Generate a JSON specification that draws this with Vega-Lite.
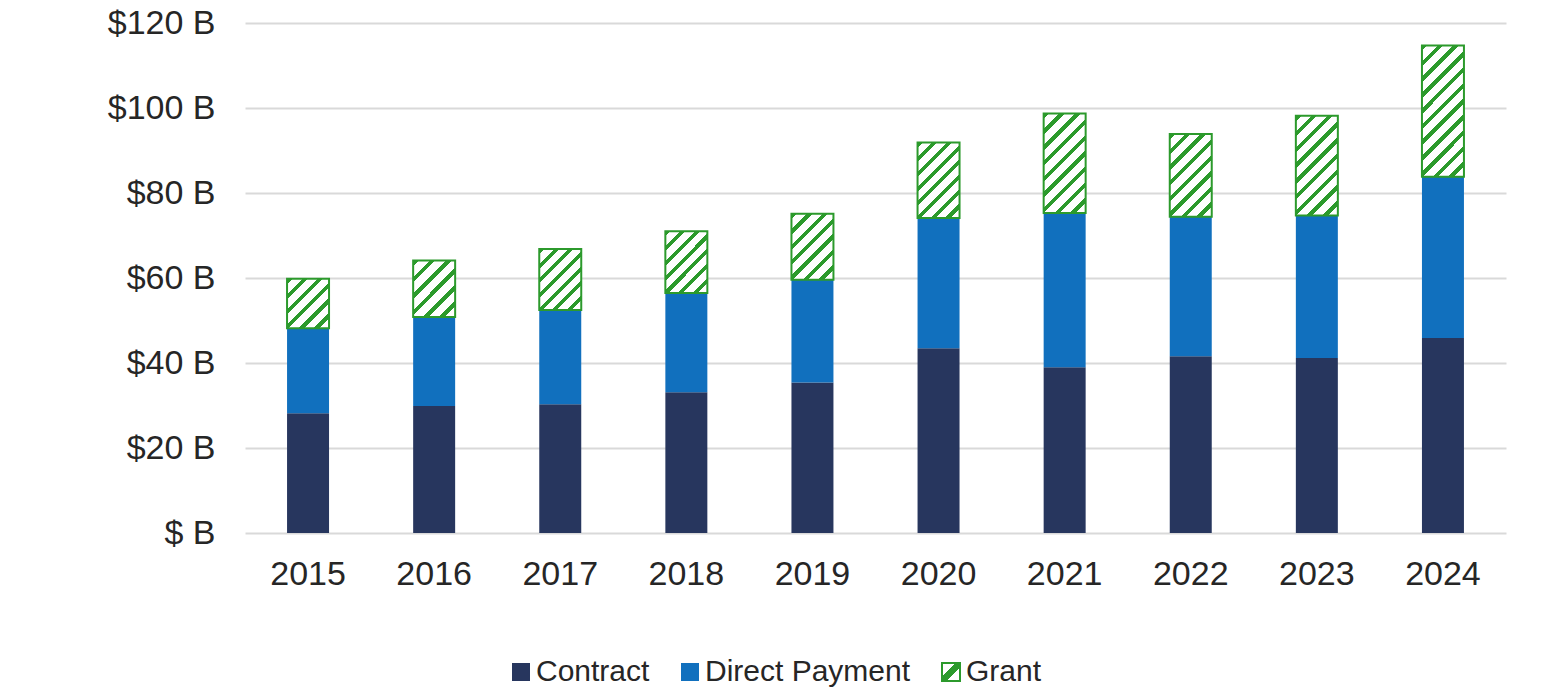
{
  "$schema": "https://vega.github.io/schema/vega-lite/v6.json",
  "autosize": "none",
  "width": 1261,
  "height": 510,
  "padding": {"left": 245, "top": 23, "right": 60, "bottom": 166},
  "background": "white",
  "config": {
    "view": {"stroke": null},
    "font": "Liberation Sans"
  },
  "data": {
    "values": [
      {"year": "2015", "type": "Contract", "value": 28.2},
      {"year": "2015", "type": "Direct Payment", "value": 20.0},
      {"year": "2015", "type": "Grant", "value": 11.6},
      {"year": "2016", "type": "Contract", "value": 29.9},
      {"year": "2016", "type": "Direct Payment", "value": 20.9},
      {"year": "2016", "type": "Grant", "value": 13.3},
      {"year": "2017", "type": "Contract", "value": 30.3},
      {"year": "2017", "type": "Direct Payment", "value": 22.2},
      {"year": "2017", "type": "Grant", "value": 14.3},
      {"year": "2018", "type": "Contract", "value": 33.1},
      {"year": "2018", "type": "Direct Payment", "value": 23.4},
      {"year": "2018", "type": "Grant", "value": 14.5},
      {"year": "2019", "type": "Contract", "value": 35.4},
      {"year": "2019", "type": "Direct Payment", "value": 24.2},
      {"year": "2019", "type": "Grant", "value": 15.5},
      {"year": "2020", "type": "Contract", "value": 43.5},
      {"year": "2020", "type": "Direct Payment", "value": 30.6},
      {"year": "2020", "type": "Grant", "value": 17.8},
      {"year": "2021", "type": "Contract", "value": 39.0},
      {"year": "2021", "type": "Direct Payment", "value": 36.3},
      {"year": "2021", "type": "Grant", "value": 23.4},
      {"year": "2022", "type": "Contract", "value": 41.6},
      {"year": "2022", "type": "Direct Payment", "value": 32.8},
      {"year": "2022", "type": "Grant", "value": 19.5},
      {"year": "2023", "type": "Contract", "value": 41.2},
      {"year": "2023", "type": "Direct Payment", "value": 33.5},
      {"year": "2023", "type": "Grant", "value": 23.5},
      {"year": "2024", "type": "Contract", "value": 45.9},
      {"year": "2024", "type": "Direct Payment", "value": 37.9},
      {"year": "2024", "type": "Grant", "value": 30.9}
    ]
  },
  "mark": {"type": "bar", "strokeWidth": 2},
  "encoding": {
    "x": {
      "field": "year", "type": "ordinal",
      "scale": {"paddingInner": 0.667, "paddingOuter": 0.3335},
      "axis": {"title": null, "labelAngle": 0, "domain": false, "ticks": false, "labelFontSize": 34, "labelColor": "#262626", "labelPadding": 24, "labelFont": "Liberation Sans"}
    },
    "y": {
      "field": "value", "type": "quantitative", "stack": "zero",
      "scale": {"domain": [0, 120], "nice": false},
      "axis": {"title": null, "values": [0, 20, 40, 60, 80, 100, 120], "domain": false, "ticks": false, "tickSize": 0, "labelFontSize": 34, "labelColor": "#262626", "labelPadding": 30, "labelFont": "Liberation Sans", "gridColor": "#d9d9d9", "gridWidth": 2, "labelExpr": "datum.value == 0 ? '$ B' : '$' + datum.value + ' B'"}
    },
    "order": {"field": "type", "type": "nominal", "sort": "ascending"},
    "stroke": {
      "field": "type", "type": "nominal",
      "scale": {"domain": ["Contract", "Direct Payment", "Grant"], "range": ["transparent", "transparent", "#2c9a2c"]},
      "legend": {
        "title": null,
        "orient": "none",
        "legendX": 261,
        "legendY": 634,
        "direction": "horizontal",
        "padding": 0,
        "symbolType": "square",
        "symbolSize": 324,
        "symbolStrokeWidth": 2,
        "labelOffset": 0,
        "columnPadding": 25,
        "labelFontSize": 30,
        "labelFont": "Liberation Sans",
        "labelColor": "#262626",
        "labelLimit": 400
      }
    },
    "fill": {
      "condition": [
        {"test": "datum.type === 'Grant' && datum.year === '2015'", "value": {"gradient": "linear", "x1": 0, "y1": 0, "x2": 0.914, "y2": 1.073, "stops": [
          {"offset": 0, "color": "#2c9a2c"}, {"offset": 0.0583, "color": "#2c9a2c"}, {"offset": 0.0583, "color": "#ffffff"}, {"offset": 0.1667, "color": "#ffffff"},
          {"offset": 0.1667, "color": "#2c9a2c"}, {"offset": 0.225, "color": "#2c9a2c"}, {"offset": 0.225, "color": "#ffffff"}, {"offset": 0.3333, "color": "#ffffff"},
          {"offset": 0.3333, "color": "#2c9a2c"}, {"offset": 0.3917, "color": "#2c9a2c"}, {"offset": 0.3917, "color": "#ffffff"}, {"offset": 0.5, "color": "#ffffff"},
          {"offset": 0.5, "color": "#2c9a2c"}, {"offset": 0.5583, "color": "#2c9a2c"}, {"offset": 0.5583, "color": "#ffffff"}, {"offset": 0.6667, "color": "#ffffff"},
          {"offset": 0.6667, "color": "#2c9a2c"}, {"offset": 0.725, "color": "#2c9a2c"}, {"offset": 0.725, "color": "#ffffff"}, {"offset": 0.8333, "color": "#ffffff"},
          {"offset": 0.8333, "color": "#2c9a2c"}, {"offset": 0.8917, "color": "#2c9a2c"}, {"offset": 0.8917, "color": "#ffffff"}, {"offset": 1, "color": "#ffffff"}
        ]}},
        {"test": "datum.type === 'Grant' && datum.year === '2016'", "value": {"gradient": "linear", "x1": 0, "y1": 0, "x2": 0.835, "y2": 1.123, "stops": [
          {"offset": 0, "color": "#2c9a2c"}, {"offset": 0.0583, "color": "#2c9a2c"}, {"offset": 0.0583, "color": "#ffffff"}, {"offset": 0.1667, "color": "#ffffff"},
          {"offset": 0.1667, "color": "#2c9a2c"}, {"offset": 0.225, "color": "#2c9a2c"}, {"offset": 0.225, "color": "#ffffff"}, {"offset": 0.3333, "color": "#ffffff"},
          {"offset": 0.3333, "color": "#2c9a2c"}, {"offset": 0.3917, "color": "#2c9a2c"}, {"offset": 0.3917, "color": "#ffffff"}, {"offset": 0.5, "color": "#ffffff"},
          {"offset": 0.5, "color": "#2c9a2c"}, {"offset": 0.5583, "color": "#2c9a2c"}, {"offset": 0.5583, "color": "#ffffff"}, {"offset": 0.6667, "color": "#ffffff"},
          {"offset": 0.6667, "color": "#2c9a2c"}, {"offset": 0.725, "color": "#2c9a2c"}, {"offset": 0.725, "color": "#ffffff"}, {"offset": 0.8333, "color": "#ffffff"},
          {"offset": 0.8333, "color": "#2c9a2c"}, {"offset": 0.8917, "color": "#2c9a2c"}, {"offset": 0.8917, "color": "#ffffff"}, {"offset": 1, "color": "#ffffff"}
        ]}},
        {"test": "datum.type === 'Grant' && datum.year === '2017'", "value": {"gradient": "linear", "x1": 0, "y1": 0, "x2": 0.791, "y2": 1.145, "stops": [
          {"offset": 0, "color": "#2c9a2c"}, {"offset": 0.05, "color": "#2c9a2c"}, {"offset": 0.05, "color": "#ffffff"}, {"offset": 0.142857, "color": "#ffffff"},
          {"offset": 0.142857, "color": "#2c9a2c"}, {"offset": 0.192857, "color": "#2c9a2c"}, {"offset": 0.192857, "color": "#ffffff"}, {"offset": 0.285714, "color": "#ffffff"},
          {"offset": 0.285714, "color": "#2c9a2c"}, {"offset": 0.335714, "color": "#2c9a2c"}, {"offset": 0.335714, "color": "#ffffff"}, {"offset": 0.428571, "color": "#ffffff"},
          {"offset": 0.428571, "color": "#2c9a2c"}, {"offset": 0.478571, "color": "#2c9a2c"}, {"offset": 0.478571, "color": "#ffffff"}, {"offset": 0.571429, "color": "#ffffff"},
          {"offset": 0.571429, "color": "#2c9a2c"}, {"offset": 0.621429, "color": "#2c9a2c"}, {"offset": 0.621429, "color": "#ffffff"}, {"offset": 0.714286, "color": "#ffffff"},
          {"offset": 0.714286, "color": "#2c9a2c"}, {"offset": 0.764286, "color": "#2c9a2c"}, {"offset": 0.764286, "color": "#ffffff"}, {"offset": 0.857143, "color": "#ffffff"},
          {"offset": 0.857143, "color": "#2c9a2c"}, {"offset": 0.907143, "color": "#2c9a2c"}, {"offset": 0.907143, "color": "#ffffff"}, {"offset": 1, "color": "#ffffff"}
        ]}},
        {"test": "datum.type === 'Grant' && datum.year === '2018'", "value": {"gradient": "linear", "x1": 0, "y1": 0, "x2": 0.783, "y2": 1.148, "stops": [
          {"offset": 0, "color": "#2c9a2c"}, {"offset": 0.05, "color": "#2c9a2c"}, {"offset": 0.05, "color": "#ffffff"}, {"offset": 0.142857, "color": "#ffffff"},
          {"offset": 0.142857, "color": "#2c9a2c"}, {"offset": 0.192857, "color": "#2c9a2c"}, {"offset": 0.192857, "color": "#ffffff"}, {"offset": 0.285714, "color": "#ffffff"},
          {"offset": 0.285714, "color": "#2c9a2c"}, {"offset": 0.335714, "color": "#2c9a2c"}, {"offset": 0.335714, "color": "#ffffff"}, {"offset": 0.428571, "color": "#ffffff"},
          {"offset": 0.428571, "color": "#2c9a2c"}, {"offset": 0.478571, "color": "#2c9a2c"}, {"offset": 0.478571, "color": "#ffffff"}, {"offset": 0.571429, "color": "#ffffff"},
          {"offset": 0.571429, "color": "#2c9a2c"}, {"offset": 0.621429, "color": "#2c9a2c"}, {"offset": 0.621429, "color": "#ffffff"}, {"offset": 0.714286, "color": "#ffffff"},
          {"offset": 0.714286, "color": "#2c9a2c"}, {"offset": 0.764286, "color": "#2c9a2c"}, {"offset": 0.764286, "color": "#ffffff"}, {"offset": 0.857143, "color": "#ffffff"},
          {"offset": 0.857143, "color": "#2c9a2c"}, {"offset": 0.907143, "color": "#2c9a2c"}, {"offset": 0.907143, "color": "#ffffff"}, {"offset": 1, "color": "#ffffff"}
        ]}},
        {"test": "datum.type === 'Grant' && datum.year === '2019'", "value": {"gradient": "linear", "x1": 0, "y1": 0, "x2": 0.742, "y2": 1.164, "stops": [
          {"offset": 0, "color": "#2c9a2c"}, {"offset": 0.05, "color": "#2c9a2c"}, {"offset": 0.05, "color": "#ffffff"}, {"offset": 0.142857, "color": "#ffffff"},
          {"offset": 0.142857, "color": "#2c9a2c"}, {"offset": 0.192857, "color": "#2c9a2c"}, {"offset": 0.192857, "color": "#ffffff"}, {"offset": 0.285714, "color": "#ffffff"},
          {"offset": 0.285714, "color": "#2c9a2c"}, {"offset": 0.335714, "color": "#2c9a2c"}, {"offset": 0.335714, "color": "#ffffff"}, {"offset": 0.428571, "color": "#ffffff"},
          {"offset": 0.428571, "color": "#2c9a2c"}, {"offset": 0.478571, "color": "#2c9a2c"}, {"offset": 0.478571, "color": "#ffffff"}, {"offset": 0.571429, "color": "#ffffff"},
          {"offset": 0.571429, "color": "#2c9a2c"}, {"offset": 0.621429, "color": "#2c9a2c"}, {"offset": 0.621429, "color": "#ffffff"}, {"offset": 0.714286, "color": "#ffffff"},
          {"offset": 0.714286, "color": "#2c9a2c"}, {"offset": 0.764286, "color": "#2c9a2c"}, {"offset": 0.764286, "color": "#ffffff"}, {"offset": 0.857143, "color": "#ffffff"},
          {"offset": 0.857143, "color": "#2c9a2c"}, {"offset": 0.907143, "color": "#2c9a2c"}, {"offset": 0.907143, "color": "#ffffff"}, {"offset": 1, "color": "#ffffff"}
        ]}},
        {"test": "datum.type === 'Grant' && datum.year === '2020'", "value": {"gradient": "linear", "x1": 0, "y1": 0, "x2": 0.660, "y2": 1.189, "stops": [
          {"offset": 0, "color": "#2c9a2c"}, {"offset": 0.04375, "color": "#2c9a2c"}, {"offset": 0.04375, "color": "#ffffff"}, {"offset": 0.125, "color": "#ffffff"},
          {"offset": 0.125, "color": "#2c9a2c"}, {"offset": 0.16875, "color": "#2c9a2c"}, {"offset": 0.16875, "color": "#ffffff"}, {"offset": 0.25, "color": "#ffffff"},
          {"offset": 0.25, "color": "#2c9a2c"}, {"offset": 0.29375, "color": "#2c9a2c"}, {"offset": 0.29375, "color": "#ffffff"}, {"offset": 0.375, "color": "#ffffff"},
          {"offset": 0.375, "color": "#2c9a2c"}, {"offset": 0.41875, "color": "#2c9a2c"}, {"offset": 0.41875, "color": "#ffffff"}, {"offset": 0.5, "color": "#ffffff"},
          {"offset": 0.5, "color": "#2c9a2c"}, {"offset": 0.54375, "color": "#2c9a2c"}, {"offset": 0.54375, "color": "#ffffff"}, {"offset": 0.625, "color": "#ffffff"},
          {"offset": 0.625, "color": "#2c9a2c"}, {"offset": 0.66875, "color": "#2c9a2c"}, {"offset": 0.66875, "color": "#ffffff"}, {"offset": 0.75, "color": "#ffffff"},
          {"offset": 0.75, "color": "#2c9a2c"}, {"offset": 0.79375, "color": "#2c9a2c"}, {"offset": 0.79375, "color": "#ffffff"}, {"offset": 0.875, "color": "#ffffff"},
          {"offset": 0.875, "color": "#2c9a2c"}, {"offset": 0.91875, "color": "#2c9a2c"}, {"offset": 0.91875, "color": "#ffffff"}, {"offset": 1, "color": "#ffffff"}
        ]}},
        {"test": "datum.type === 'Grant' && datum.year === '2021'", "value": {"gradient": "linear", "x1": 0, "y1": 0, "x2": 0.509, "y2": 1.207, "stops": [
          {"offset": 0, "color": "#2c9a2c"}, {"offset": 0.03889, "color": "#2c9a2c"}, {"offset": 0.03889, "color": "#ffffff"}, {"offset": 0.11111, "color": "#ffffff"},
          {"offset": 0.11111, "color": "#2c9a2c"}, {"offset": 0.15, "color": "#2c9a2c"}, {"offset": 0.15, "color": "#ffffff"}, {"offset": 0.22222, "color": "#ffffff"},
          {"offset": 0.22222, "color": "#2c9a2c"}, {"offset": 0.26111, "color": "#2c9a2c"}, {"offset": 0.26111, "color": "#ffffff"}, {"offset": 0.33333, "color": "#ffffff"},
          {"offset": 0.33333, "color": "#2c9a2c"}, {"offset": 0.37222, "color": "#2c9a2c"}, {"offset": 0.37222, "color": "#ffffff"}, {"offset": 0.44444, "color": "#ffffff"},
          {"offset": 0.44444, "color": "#2c9a2c"}, {"offset": 0.48333, "color": "#2c9a2c"}, {"offset": 0.48333, "color": "#ffffff"}, {"offset": 0.55556, "color": "#ffffff"},
          {"offset": 0.55556, "color": "#2c9a2c"}, {"offset": 0.59444, "color": "#2c9a2c"}, {"offset": 0.59444, "color": "#ffffff"}, {"offset": 0.66667, "color": "#ffffff"},
          {"offset": 0.66667, "color": "#2c9a2c"}, {"offset": 0.70556, "color": "#2c9a2c"}, {"offset": 0.70556, "color": "#ffffff"}, {"offset": 0.77778, "color": "#ffffff"},
          {"offset": 0.77778, "color": "#2c9a2c"}, {"offset": 0.81667, "color": "#2c9a2c"}, {"offset": 0.81667, "color": "#ffffff"}, {"offset": 0.88889, "color": "#ffffff"},
          {"offset": 0.88889, "color": "#2c9a2c"}, {"offset": 0.92778, "color": "#2c9a2c"}, {"offset": 0.92778, "color": "#ffffff"}, {"offset": 1, "color": "#ffffff"}
        ]}},
        {"test": "datum.type === 'Grant' && datum.year === '2022'", "value": {"gradient": "linear", "x1": 0, "y1": 0, "x2": 0.607, "y2": 1.199, "stops": [
          {"offset": 0, "color": "#2c9a2c"}, {"offset": 0.04375, "color": "#2c9a2c"}, {"offset": 0.04375, "color": "#ffffff"}, {"offset": 0.125, "color": "#ffffff"},
          {"offset": 0.125, "color": "#2c9a2c"}, {"offset": 0.16875, "color": "#2c9a2c"}, {"offset": 0.16875, "color": "#ffffff"}, {"offset": 0.25, "color": "#ffffff"},
          {"offset": 0.25, "color": "#2c9a2c"}, {"offset": 0.29375, "color": "#2c9a2c"}, {"offset": 0.29375, "color": "#ffffff"}, {"offset": 0.375, "color": "#ffffff"},
          {"offset": 0.375, "color": "#2c9a2c"}, {"offset": 0.41875, "color": "#2c9a2c"}, {"offset": 0.41875, "color": "#ffffff"}, {"offset": 0.5, "color": "#ffffff"},
          {"offset": 0.5, "color": "#2c9a2c"}, {"offset": 0.54375, "color": "#2c9a2c"}, {"offset": 0.54375, "color": "#ffffff"}, {"offset": 0.625, "color": "#ffffff"},
          {"offset": 0.625, "color": "#2c9a2c"}, {"offset": 0.66875, "color": "#2c9a2c"}, {"offset": 0.66875, "color": "#ffffff"}, {"offset": 0.75, "color": "#ffffff"},
          {"offset": 0.75, "color": "#2c9a2c"}, {"offset": 0.79375, "color": "#2c9a2c"}, {"offset": 0.79375, "color": "#ffffff"}, {"offset": 0.875, "color": "#ffffff"},
          {"offset": 0.875, "color": "#2c9a2c"}, {"offset": 0.91875, "color": "#2c9a2c"}, {"offset": 0.91875, "color": "#ffffff"}, {"offset": 1, "color": "#ffffff"}
        ]}},
        {"test": "datum.type === 'Grant' && datum.year === '2023'", "value": {"gradient": "linear", "x1": 0, "y1": 0, "x2": 0.507, "y2": 1.207, "stops": [
          {"offset": 0, "color": "#2c9a2c"}, {"offset": 0.03889, "color": "#2c9a2c"}, {"offset": 0.03889, "color": "#ffffff"}, {"offset": 0.11111, "color": "#ffffff"},
          {"offset": 0.11111, "color": "#2c9a2c"}, {"offset": 0.15, "color": "#2c9a2c"}, {"offset": 0.15, "color": "#ffffff"}, {"offset": 0.22222, "color": "#ffffff"},
          {"offset": 0.22222, "color": "#2c9a2c"}, {"offset": 0.26111, "color": "#2c9a2c"}, {"offset": 0.26111, "color": "#ffffff"}, {"offset": 0.33333, "color": "#ffffff"},
          {"offset": 0.33333, "color": "#2c9a2c"}, {"offset": 0.37222, "color": "#2c9a2c"}, {"offset": 0.37222, "color": "#ffffff"}, {"offset": 0.44444, "color": "#ffffff"},
          {"offset": 0.44444, "color": "#2c9a2c"}, {"offset": 0.48333, "color": "#2c9a2c"}, {"offset": 0.48333, "color": "#ffffff"}, {"offset": 0.55556, "color": "#ffffff"},
          {"offset": 0.55556, "color": "#2c9a2c"}, {"offset": 0.59444, "color": "#2c9a2c"}, {"offset": 0.59444, "color": "#ffffff"}, {"offset": 0.66667, "color": "#ffffff"},
          {"offset": 0.66667, "color": "#2c9a2c"}, {"offset": 0.70556, "color": "#2c9a2c"}, {"offset": 0.70556, "color": "#ffffff"}, {"offset": 0.77778, "color": "#ffffff"},
          {"offset": 0.77778, "color": "#2c9a2c"}, {"offset": 0.81667, "color": "#2c9a2c"}, {"offset": 0.81667, "color": "#ffffff"}, {"offset": 0.88889, "color": "#ffffff"},
          {"offset": 0.88889, "color": "#2c9a2c"}, {"offset": 0.92778, "color": "#2c9a2c"}, {"offset": 0.92778, "color": "#ffffff"}, {"offset": 1, "color": "#ffffff"}
        ]}},
        {"test": "datum.type === 'Grant' && datum.year === '2024'", "value": {"gradient": "linear", "x1": 0, "y1": 0, "x2": 0.383, "y2": 1.197, "stops": [
          {"offset": 0, "color": "#2c9a2c"}, {"offset": 0.031818, "color": "#2c9a2c"}, {"offset": 0.031818, "color": "#ffffff"}, {"offset": 0.090909, "color": "#ffffff"},
          {"offset": 0.090909, "color": "#2c9a2c"}, {"offset": 0.122727, "color": "#2c9a2c"}, {"offset": 0.122727, "color": "#ffffff"}, {"offset": 0.181818, "color": "#ffffff"},
          {"offset": 0.181818, "color": "#2c9a2c"}, {"offset": 0.213636, "color": "#2c9a2c"}, {"offset": 0.213636, "color": "#ffffff"}, {"offset": 0.272727, "color": "#ffffff"},
          {"offset": 0.272727, "color": "#2c9a2c"}, {"offset": 0.304545, "color": "#2c9a2c"}, {"offset": 0.304545, "color": "#ffffff"}, {"offset": 0.363636, "color": "#ffffff"},
          {"offset": 0.363636, "color": "#2c9a2c"}, {"offset": 0.395455, "color": "#2c9a2c"}, {"offset": 0.395455, "color": "#ffffff"}, {"offset": 0.454545, "color": "#ffffff"},
          {"offset": 0.454545, "color": "#2c9a2c"}, {"offset": 0.486364, "color": "#2c9a2c"}, {"offset": 0.486364, "color": "#ffffff"}, {"offset": 0.545455, "color": "#ffffff"},
          {"offset": 0.545455, "color": "#2c9a2c"}, {"offset": 0.577273, "color": "#2c9a2c"}, {"offset": 0.577273, "color": "#ffffff"}, {"offset": 0.636364, "color": "#ffffff"},
          {"offset": 0.636364, "color": "#2c9a2c"}, {"offset": 0.668182, "color": "#2c9a2c"}, {"offset": 0.668182, "color": "#ffffff"}, {"offset": 0.727273, "color": "#ffffff"},
          {"offset": 0.727273, "color": "#2c9a2c"}, {"offset": 0.759091, "color": "#2c9a2c"}, {"offset": 0.759091, "color": "#ffffff"}, {"offset": 0.818182, "color": "#ffffff"},
          {"offset": 0.818182, "color": "#2c9a2c"}, {"offset": 0.85, "color": "#2c9a2c"}, {"offset": 0.85, "color": "#ffffff"}, {"offset": 0.909091, "color": "#ffffff"},
          {"offset": 0.909091, "color": "#2c9a2c"}, {"offset": 0.940909, "color": "#2c9a2c"}, {"offset": 0.940909, "color": "#ffffff"}, {"offset": 1, "color": "#ffffff"}
        ]}}
      ],
      "field": "type", "type": "nominal",
      "scale": {"domain": ["Contract", "Direct Payment", "Grant"], "range": ["#27365e", "#1170be", {"expr": "{gradient: 'linear', x1: 0, y1: 0, x2: 1, y2: 1, stops: [{offset: 0, color: '#ffffff'}, {offset: 0.38, color: '#ffffff'}, {offset: 0.38, color: '#2c9a2c'}, {offset: 0.62, color: '#2c9a2c'}, {offset: 0.62, color: '#ffffff'}, {offset: 1, color: '#ffffff'}]}"}]},
      "legend": {
        "title": null,
        "orient": "none",
        "legendX": 261,
        "legendY": 634,
        "direction": "horizontal",
        "padding": 0,
        "symbolType": "square",
        "symbolSize": 324,
        "symbolStrokeWidth": 2,
        "labelOffset": 0,
        "columnPadding": 25,
        "labelFontSize": 30,
        "labelFont": "Liberation Sans",
        "labelColor": "#262626",
        "labelLimit": 400
      }
    }
  }
}
